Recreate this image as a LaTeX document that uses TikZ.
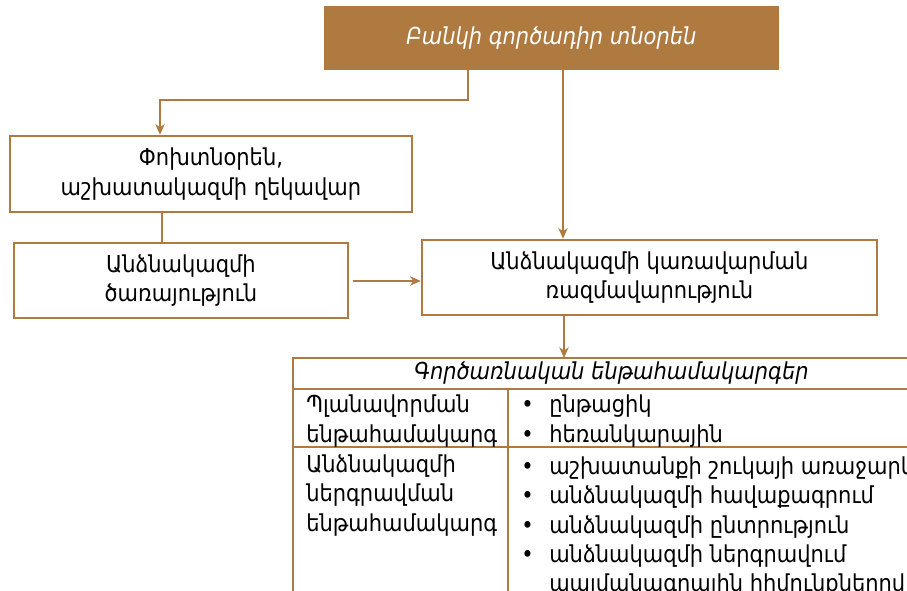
\documentclass[tikz,border=0pt]{standalone}
\usepackage{fontspec}
\setmainfont{DejaVu Sans Condensed}
\usetikzlibrary{arrows.meta}
\definecolor{brn}{HTML}{AE7A3F}
\begin{document}
\begin{tikzpicture}[x=0.75pt,y=-0.75pt,
  every node/.style={font=\fontsize{17.5}{22}\selectfont, inner sep=0pt},
  box/.style={draw=brn, line width=1.9pt, fill=white, align=center},
  conn/.style={draw=brn, line width=1.7pt},
  arr/.style={conn, -{Stealth[length=8pt,width=7pt,inset=2.5pt]}},
  rule/.style={draw=brn, line width=1.9pt},
  cell/.style={anchor=west, align=left}]
\useasboundingbox (0,0) rectangle (907,591);
\clip (0,0) rectangle (907,591);
% boxes
\node[box, fill=brn, text=white, minimum width=339.75pt, minimum height=46.5pt,
      font=\fontsize{17.5}{22}\selectfont\itshape] (top) at (551.5,38) {Բանկի գործադիր տնօրեն};
\node[box, minimum width=301.5pt, minimum height=57pt] (b2) at (211,174)
  {Փոխտնօրեն,\\աշխատակազմի ղեկավար};
\node[box, minimum width=250.5pt, minimum height=56.25pt] (b4) at (181,280.5)
  {Անձնակազմի\\ծառայություն};
\node[box, minimum width=341.25pt, minimum height=56.25pt] (b3) at (649.5,277.5)
  {Անձնակազմի կառավարման\\ռազմավարություն};
% table
\draw[rule] (293,358) rectangle (935,620);
\draw[rule] (293,389) -- (935,389);
\draw[rule] (293,447) -- (935,447);
\draw[rule] (508,389) -- (508,620);
\node[font=\fontsize{17.5}{22}\selectfont\itshape] (hdr) at (611.5,373.5) {Գործառնական ենթահամակարգեր};
\node[cell] (r1l) at (306,421) {Պլանավորման\\ենթահամակարգ};
\node[cell] (r2l) at (306,495.5) {Անձնակազմի\\ներգրավման\\ենթահամակարգ};
\node[cell] (r1r) at (521,421) {\makebox[21pt][l]{•}ընթացիկ\\\makebox[21pt][l]{•}հեռանկարային};
\node[cell, anchor=north west] (r2r) at (521,456.5)
  {\makebox[21pt][l]{•}աշխատանքի շուկայի առաջարկի\\
   \makebox[21pt][l]{•}անձնակազմի հավաքագրում\\
   \makebox[21pt][l]{•}անձնակազմի ընտրություն\\
   \makebox[21pt][l]{•}անձնակազմի ներգրավում\\
   \hspace*{21pt}պայմանագրային հիմունքներով};
% connectors
\coordinate (k1) at (468,100);
\coordinate (k2) at (160,100);
\coordinate (k3) at (563,0);
\coordinate (k4) at (162,0);
\coordinate (k5) at (0,281);
\coordinate (tt) at (564,358);
\draw[arr] (top.south -| k1) -- (k1) -- (k2) -- (b2.north -| k2);
\draw[arr] (top.south -| k3) -- (b3.north -| k3);
\draw[conn] (b2.south -| k4) -- (b4.north -| k4);
\draw[arr] ([xshift=3pt]b4.east |- k5) -- (b3.west |- k5);
\draw[arr] (b3.south -| tt) -- (tt);
\end{tikzpicture}
\end{document}
